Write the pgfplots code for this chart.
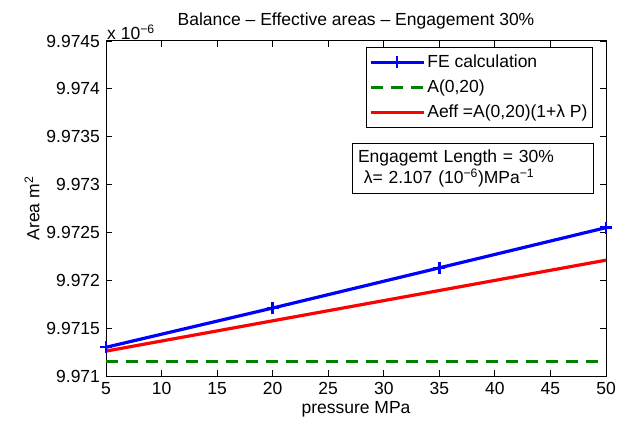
\documentclass[border=0pt]{standalone}
\usepackage{fontspec}
\setmainfont{Liberation Sans}
\usepackage{pgfplots}
\pgfplotsset{compat=1.18}
\definecolor{mgreen}{rgb}{0,0.5,0}
\begin{document}
\fontsize{17.5}{21}\selectfont
\begin{tikzpicture}
\begin{axis}[
  scale only axis,
  width=500pt, height=335pt,
  xmin=5, xmax=50, ymin=9.971, ymax=9.9745,
  xtick={5,10,...,50},
  ytick={9.971,9.9715,9.972,9.9725,9.973,9.9735,9.974,9.9745},
  yticklabels={9.971,9.9715,9.972,9.9725,9.973,9.9735,9.974,9.9745},
  /pgf/number format/assume math mode=true,
  tick align=inside,
  major tick length=6pt,
  tick style={black, line width=0.8pt},
  axis line style={line width=1pt},
  ticklabel style={font=\fontsize{17.5}{21}\selectfont},
  xticklabel style={yshift=0pt},
  xlabel={pressure MPa},
  ylabel={Area m\textsuperscript{2}},
  xlabel style={font=\fontsize{17.5}{21}\selectfont, yshift=5pt},
  ylabel style={font=\fontsize{17.5}{21}\selectfont, yshift=-5pt},
  title={Balance – Effective areas – Engagement 30\%},
  title style={font=\fontsize{17.5}{21}\selectfont, yshift=0pt},
  legend style={at={(0.974,0.982)}, anchor=north east, draw=black, line width=1pt,
    font=\fontsize{17.5}{21}\selectfont, row sep=6pt, inner xsep=3pt, inner ysep=5pt},
  legend cell align=left,
  legend image code/.code={
    \draw[#1, mark=none] (0pt,0pt) -- (53pt,0pt);
    \draw[#1, only marks] plot coordinates {(26.5pt,0pt)};
  },
  clip=false,
]
\addplot[blue, line width=3.2pt, mark=+, mark size=6pt, mark options={line width=2.4pt, solid}] coordinates {
  (5,9.97130) (20,9.97171) (35,9.97213) (50,9.97255)
};
\addlegendentry{FE calculation}
\addplot[mgreen, line width=3.2pt, dash pattern=on 12pt off 8pt] coordinates {
  (5,9.97115) (50,9.97115)
};
\addlegendentry{A(0,20)}
\addplot[red, line width=3.2pt] coordinates {
  (5,9.97126) (50,9.97221)
};
\addlegendentry{Aeff =A(0,20)(1+λ P)}
\node[draw=black, line width=1pt, anchor=north west, align=left, fill=white,
  minimum width=241pt, minimum height=50pt, inner sep=4pt, text width=230pt,
  font=\fontsize{17.5}{21}\selectfont]
  at (rel axis cs:0.492,0.696) {Engagemt Length = 30\%\\ \ λ= 2.107 (10\textsuperscript{−6})MPa\textsuperscript{−1}};
\node[anchor=south west, font=\fontsize{17.5}{21}\selectfont, inner sep=1pt] at (rel axis cs:0,1) {x 10\textsuperscript{−6}};
\path (rel axis cs:0,0) ++(-106pt,-47pt) coordinate (bbA);
\path (rel axis cs:1,1) ++(18pt,41pt) coordinate (bbB);
\end{axis}
\path[use as bounding box] (bbA) rectangle (bbB);
\end{tikzpicture}
\end{document}
